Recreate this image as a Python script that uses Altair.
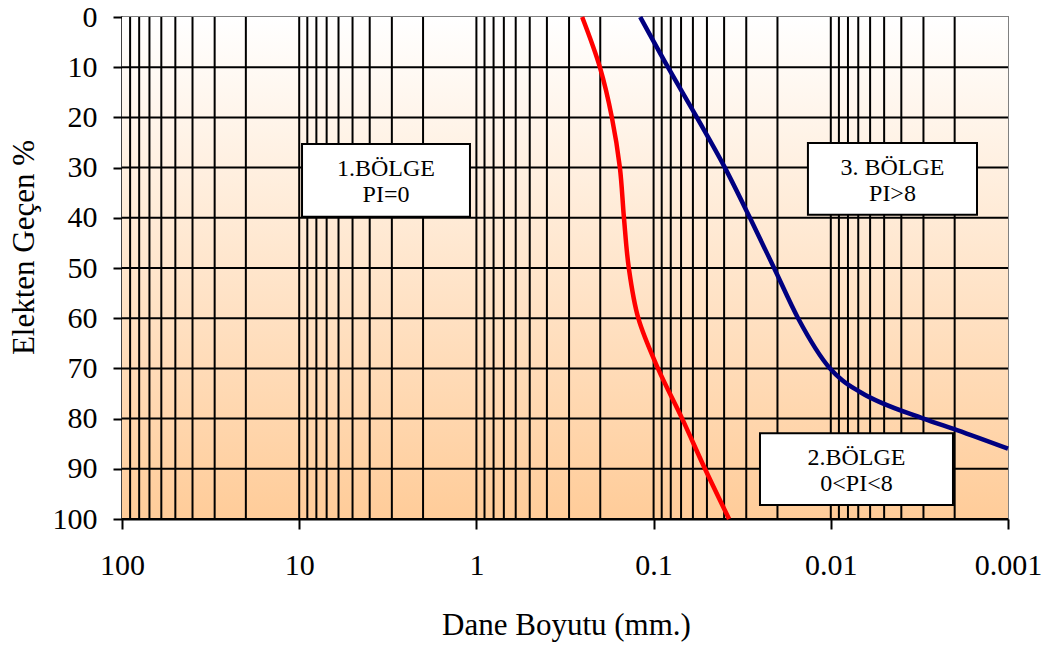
import altair as alt
import pandas as pd

# Grain-size curves: percent passing (p) against particle diameter d (mm)
red_p = [0, 10, 20, 30, 40, 50, 60, 70, 80, 90, 100]
red_d = [0.253, 0.201, 0.172, 0.155, 0.147, 0.138, 0.122, 0.0945, 0.069, 0.0513, 0.0375]

blue_p = [0, 10, 20, 30, 40, 50, 60, 70, 72.3, 74.7, 80, 82.3, 86]
blue_d = [0.119, 0.083, 0.057, 0.0396, 0.0286, 0.0209, 0.0153, 0.0101, 0.00865,
          0.00684, 0.0030, 0.00194, 0.001]

# Zone labels and their boxes (data units)
zone_text = ["1.BÖLGE\nPI=0", "3. BÖLGE\nPI>8", "2.BÖLGE\n0<PI<8"]
zone_x1 = [9.64, 0.01346, 0.0251]
zone_x2 = [1.087, 0.001496, 0.002044]
zone_y1 = [25.3, 25.1, 82.9]
zone_y2 = [39.8, 39.4, 97.2]

# Axis ticks
decades = [100, 10, 1, 0.1, 0.01, 0.001]
minor_mult = [1, 2, 3, 4, 5, 6, 7, 8, 9]
pct_ticks = [0, 10, 20, 30, 40, 50, 60, 70, 80, 90, 100]

FONT = "Liberation Serif"
W, H = 886, 502

v_grid = sorted({round(m * dec, 6) for dec in decades[1:] for m in minor_mult} - {0.001})
h_grid = [v for v in pct_ticks if v != 0]

xscale = alt.Scale(type="log", domain=[0.001, 100], reverse=True, nice=False)
yscale = alt.Scale(domain=[0, 100], reverse=True, nice=False)

xaxis = alt.Axis(
    values=decades, format="~g", grid=False, domain=True, domainColor="black",
    domainWidth=2, ticks=True, tickColor="black", tickWidth=2, tickSize=10,
    labelFont=FONT, labelFontSize=30, labelColor="black", labelPadding=21,
    labelFlush=False, labelOverlap=False,
    title="Dane Boyutu (mm.)", titleFont=FONT, titleFontSize=31,
    titleFontWeight="normal", titleColor="black", titleX=444, titleY=115,
    titleBaseline="alphabetic", titleAlign="center",
)
yaxis = alt.Axis(
    values=pct_ticks, format="d", grid=False, domain=True, domainColor="black",
    domainWidth=2, ticks=True, tickColor="black", tickWidth=2, tickSize=9,
    labelFont=FONT, labelFontSize=30, labelColor="black", labelPadding=16,
    labelFlush=False, labelOverlap=False,
    title="Elekten Geçen %", titleFont=FONT, titleFontSize=31,
    titleFontWeight="normal", titleColor="black", titleAngle=270,
    titleX=-89, titleY=230, titleBaseline="alphabetic", titleAlign="center",
)


def X(field):
    return alt.X(field, type="quantitative", scale=xscale, axis=xaxis)


def Y(field):
    return alt.Y(field, type="quantitative", scale=yscale, axis=yaxis)


background = alt.Chart(alt.Data(values=[{}])).mark_rect(
    fill=alt.Gradient(
        gradient="linear",
        stops=[alt.GradientStop(color="#FFFFFF", offset=0),
               alt.GradientStop(color="#FFCC99", offset=1)],
        x1=0, x2=0, y1=0, y2=1,
    )
).encode(x=alt.value(0), x2=alt.value("width"), y=alt.value(0), y2=alt.value("height"))

vgrid = alt.Chart(pd.DataFrame({"g": v_grid})).mark_rule(
    color="black", strokeWidth=2
).encode(x=X("g"), y=alt.value(0), y2=alt.value("height"))

hgrid = alt.Chart(pd.DataFrame({"h": h_grid})).mark_rule(
    color="black", strokeWidth=2
).encode(y=Y("h"), x=alt.value(0), x2=alt.value("width"))

red = alt.Chart(pd.DataFrame({"d": red_d, "p": red_p})).mark_line(
    color="#FF0000", strokeWidth=4.5, interpolate="catmull-rom"
).encode(x=X("d"), y=Y("p"), order="p:Q")

blue = alt.Chart(pd.DataFrame({"d": blue_d, "p": blue_p})).mark_line(
    color="#000080", strokeWidth=4.5, interpolate="monotone"
).encode(x=X("d"), y=Y("p"), order="p:Q")

zones = pd.DataFrame({
    "label": zone_text, "x1": zone_x1, "x2": zone_x2, "y1": zone_y1, "y2": zone_y2,
})
zones["tx"] = (zones["x1"] * zones["x2"]) ** 0.5
zones["ty"] = (zones["y1"] + zones["y2"]) / 2

boxes = alt.Chart(zones).mark_rect(
    fill="white", stroke="black", strokeWidth=2
).encode(x=X("x1"), x2="x2", y=Y("y1"), y2="y2")

labels = alt.Chart(zones).mark_text(
    font=FONT, fontSize=24, color="black", lineBreak="\n", lineHeight=26,
    align="center", baseline="middle", dy=-11
).encode(x=X("tx"), y=Y("ty"), text="label:N")

chart = alt.layer(background, vgrid, hgrid, red, blue, boxes, labels).properties(
    width=W, height=H,
    autosize=alt.AutoSizeParams(type="none"),
    padding={"left": 122, "top": 17, "right": 42, "bottom": 127},
    background="white",
).configure_view(stroke="#808080", strokeWidth=2)

chart.save("out.html", embed_options={"renderer": "svg", "actions": False})
